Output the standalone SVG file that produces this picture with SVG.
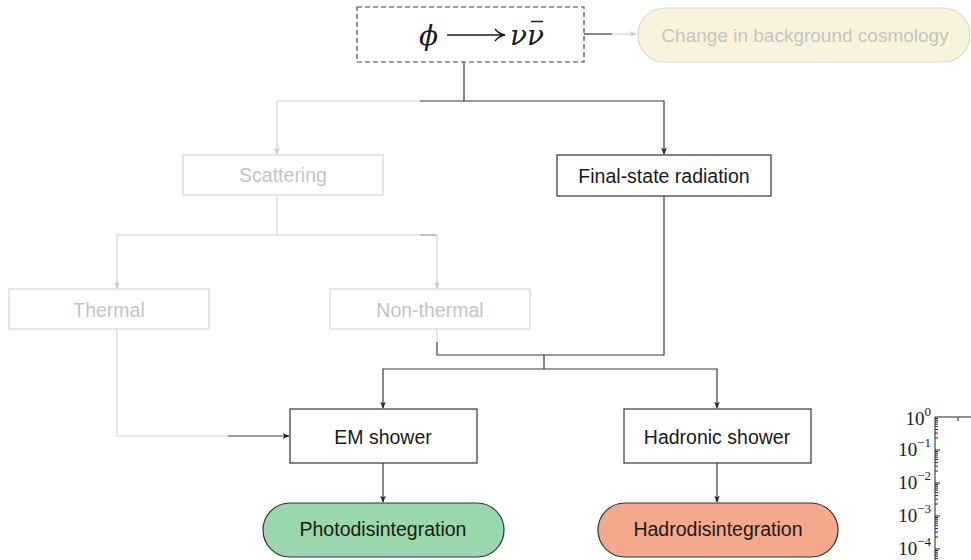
<svg xmlns="http://www.w3.org/2000/svg" width="971" height="560" viewBox="0 0 971 560">
  <style>
    .box { fill: #ffffff; stroke: #333333; stroke-width: 1.2; }
    .faint { fill: #ffffff; stroke: #d6d6d6; stroke-width: 1.2; }
    .lbl { font-family: "Liberation Sans", "DejaVu Sans", sans-serif; font-size: 19.5px; fill: #1a1a1a; text-anchor: middle; dominant-baseline: central; }
    .lbl-faint { fill: #c4c4c4; }
    .math { font-family: "DejaVu Serif", "Liberation Serif", serif; font-size: 28px; fill: #1a1a1a; }
    .dark { fill: none; stroke: #3a3a3a; stroke-width: 1.2; }
    .light { fill: none; stroke: #d4d4d4; stroke-width: 1.2; }
    .mid { fill: none; stroke: #9a9a9a; stroke-width: 1.2; }
    .axis { fill: none; stroke: #222222; stroke-width: 1; }
    .tick { font-family: "Liberation Serif", "DejaVu Serif", serif; font-size: 19px; fill: #222222; text-anchor: end; }
  </style>
  <defs>
    <marker id="arr" viewBox="0 0 10 10" refX="9" refY="5" markerWidth="7" markerHeight="7" orient="auto" markerUnits="userSpaceOnUse">
      <path d="M0,1 L10,5 L0,9 L2.5,5 Z" fill="#222222"/>
    </marker>
    <marker id="arr-light" viewBox="0 0 10 10" refX="9" refY="5" markerWidth="7" markerHeight="7" orient="auto" markerUnits="userSpaceOnUse">
      <path d="M0,1 L10,5 L0,9 L2.5,5 Z" fill="#c8c8c8"/>
    </marker>
  </defs>

  <rect width="971" height="560" fill="#ffffff"/>

  <!-- connectors -->
  <g id="connectors">
    <!-- decay to cosmology -->
    <path class="dark" d="M584,34 H612"/>
    <path class="light" d="M612,34 H636" marker-end="url(#arr-light)"/>
    <!-- decay split -->
    <path class="dark" d="M464,62 V101"/>
    <path class="light" d="M420,101 H277 V154" marker-end="url(#arr-light)"/>
    <path class="dark" d="M420,101 H664 V154" marker-end="url(#arr)"/>
    <!-- scattering split -->
    <path class="light" d="M277,195 V235"/>
    <path class="light" d="M277,235 H117 V288" marker-end="url(#arr-light)"/>
    <path class="light" d="M277,235 H420"/>
    <path class="mid" d="M420,235 H437"/>
    <path class="light" d="M437,235 V288" marker-end="url(#arr-light)"/>
    <!-- thermal to EM shower -->
    <path class="light" d="M117,329 V436 H228"/>
    <path class="dark" d="M228,436 H289" marker-end="url(#arr)"/>
    <!-- non-thermal and FSR merge -->
    <path class="light" d="M437,329 V342"/>
    <path class="dark" d="M437,342 V355 H664 V196"/>
    <path class="dark" d="M544,355 V369"/>
    <path class="dark" d="M544,369 H383 V408" marker-end="url(#arr)"/>
    <path class="dark" d="M544,369 H717 V408" marker-end="url(#arr)"/>
    <!-- showers to outcomes -->
    <path class="dark" d="M383,463 V502" marker-end="url(#arr)"/>
    <path class="dark" d="M717,463 V502" marker-end="url(#arr)"/>
  </g>

  <!-- nodes -->
  <g id="decay">
    <rect x="357" y="7" width="227" height="55" fill="#ffffff" stroke="#444444" stroke-width="1.2" stroke-dasharray="5,3"/>
    <text class="math" x="419" y="45" font-style="italic">ϕ</text>
    <path d="M447,35 H503 M495,29 Q499,34 505,35 Q499,36 495,41" fill="none" stroke="#1a1a1a" stroke-width="1.4"/>
    <text class="math" x="510" y="45" font-style="italic">ν</text>
    <text class="math" x="527" y="45" font-style="italic">ν</text>
    <path d="M531,21.5 H543" stroke="#1a1a1a" stroke-width="1.5"/>
  </g>

  <g id="cosmology">
    <rect x="638" y="8" width="332" height="54" rx="27" ry="27" fill="#faf3dc" stroke="#d8d8d0" stroke-width="1.2"/>
    <text class="lbl lbl-faint" x="805" y="35" style="font-size:19px">Change in background cosmology</text>
  </g>

  <g id="scattering">
    <rect class="faint" x="183" y="155" width="200" height="40"/>
    <text class="lbl lbl-faint" x="283" y="175">Scattering</text>
  </g>

  <g id="fsr">
    <rect class="box" x="557" y="155" width="214" height="41"/>
    <text class="lbl" x="664" y="176">Final-state radiation</text>
  </g>

  <g id="thermal">
    <rect class="faint" x="9" y="289" width="200" height="40"/>
    <text class="lbl lbl-faint" x="109" y="310">Thermal</text>
  </g>

  <g id="nonthermal">
    <rect class="faint" x="330" y="289" width="200" height="40"/>
    <text class="lbl lbl-faint" x="430" y="310">Non-thermal</text>
  </g>

  <g id="em-shower">
    <rect class="box" x="290" y="409" width="187" height="54"/>
    <text class="lbl" x="383" y="437">EM shower</text>
  </g>

  <g id="hadronic-shower">
    <rect class="box" x="624" y="409" width="187" height="54"/>
    <text class="lbl" x="717" y="437">Hadronic shower</text>
  </g>

  <g id="photodisintegration">
    <rect x="263" y="503" width="241" height="54" rx="27" ry="27" fill="#98d8ac" stroke="#333333" stroke-width="1.2"/>
    <text class="lbl" x="383" y="529">Photodisintegration</text>
  </g>

  <g id="hadrodisintegration">
    <rect x="598" y="503" width="240" height="54" rx="27" ry="27" fill="#f4a88c" stroke="#333333" stroke-width="1.2"/>
    <text class="lbl" x="718" y="529">Hadrodisintegration</text>
  </g>

  <!-- log axis fragment -->
  <g id="axis">
    <path class="axis" d="M935,560 V417 H971"/>
    <path class="axis" d="M958,417 V421"/>
    <!-- major ticks -->
    <path class="axis" d="M935,450 H940 M935,483 H940 M935,516 H940 M935,549 H940"/>
    <!-- minor ticks per decade -->
    <path class="axis" d="
      M935,418.5 H938 M935,420.2 H938 M935,422.1 H938 M935,424.2 H938 M935,426.6 H938 M935,429.6 H938 M935,433.1 H938 M935,438 H938
      M935,451.5 H938 M935,453.2 H938 M935,455.1 H938 M935,457.2 H938 M935,459.6 H938 M935,462.6 H938 M935,466.1 H938 M935,471 H938
      M935,484.5 H938 M935,486.2 H938 M935,488.1 H938 M935,490.2 H938 M935,492.6 H938 M935,495.6 H938 M935,499.1 H938 M935,504 H938
      M935,517.5 H938 M935,519.2 H938 M935,521.1 H938 M935,523.2 H938 M935,525.6 H938 M935,528.6 H938 M935,532.1 H938 M935,537 H938
      M935,550.5 H938 M935,552.2 H938 M935,554.1 H938 M935,556.2 H938 M935,558.6 H938"/>
    <text class="tick" x="931" y="425">10<tspan font-size="13" dy="-9">0</tspan></text>
    <text class="tick" x="931" y="456">10<tspan font-size="13" dy="-9">−1</tspan></text>
    <text class="tick" x="931" y="489">10<tspan font-size="13" dy="-9">−2</tspan></text>
    <text class="tick" x="931" y="522">10<tspan font-size="13" dy="-9">−3</tspan></text>
    <text class="tick" x="931" y="555">10<tspan font-size="13" dy="-9">−4</tspan></text>
  </g>
</svg>
